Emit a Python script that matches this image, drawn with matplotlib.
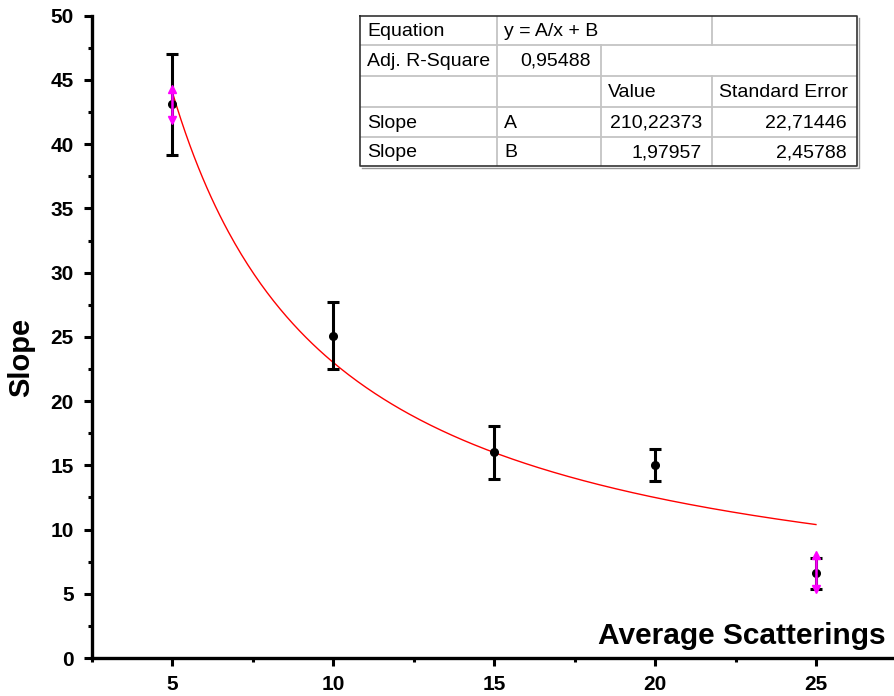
import numpy as np
import matplotlib.pyplot as plt
from matplotlib.ticker import MultipleLocator
from matplotlib.patches import Rectangle

plt.rcParams['font.family'] = ['Liberation Sans', 'DejaVu Sans']

avg_scatterings = [5, 10, 15, 20, 25]
slope = [43.1, 25.1, 16.0, 15.0, 6.6]
slope_err = [3.95, 2.6, 2.05, 1.25, 1.2]

# magenta markers at the two end points
mag_x = [5, 25]
mag_top = [44.3, 8.0]
mag_bottom = [41.9, 5.4]

# fit result y = A/x + B
FIT_A = 210.22373
FIT_B = 1.97957
FIT_A_ERR = 22.71446
FIT_B_ERR = 2.45788
ADJ_R2 = 0.95488


def comma(v):
    return f"{v:.5f}".replace(".", ",")


# table content: (row, col, text, align)
table_cells = [
    (0, 0, "Equation", "left"),
    (0, 1, "y = A/x + B", "left"),
    (1, 0, "Adj. R-Square", "left"),
    (1, 1, comma(ADJ_R2), "right"),
    (2, 2, "Value", "left"),
    (2, 3, "Standard Error", "left"),
    (3, 0, "Slope", "left"),
    (3, 1, "A", "left"),
    (3, 2, comma(FIT_A), "right"),
    (3, 3, comma(FIT_A_ERR), "right"),
    (4, 0, "Slope", "left"),
    (4, 1, "B", "left"),
    (4, 2, comma(FIT_B), "right"),
    (4, 3, comma(FIT_B_ERR), "right"),
]

fig = plt.figure(figsize=(8.95, 6.96), dpi=100)
ax = fig.add_axes([92 / 895, 1 - 658 / 696, 806 / 895, (658 - 15.7) / 696])

# fit curve
xf = np.linspace(avg_scatterings[0], avg_scatterings[-1], 300)
ax.plot(xf, FIT_A / xf + FIT_B, color="red", lw=1.0, zorder=2)

# data with error bars
ax.errorbar(avg_scatterings, slope, yerr=slope_err, fmt="o", color="black",
            ms=5.5, elinewidth=2.2, capsize=4.3, capthick=2.2, zorder=3)

# magenta end markers
ax.vlines(mag_x, mag_bottom, mag_top, color="#ff00ff", lw=1.8, zorder=4)
ax.plot(mag_x, mag_top, "^", color="#ff00ff", ms=6, zorder=4)
ax.plot(mag_x, mag_bottom, "v", color="#ff00ff", ms=6, zorder=4)

ax.set_xlim(2.5, 27.55)
ax.set_ylim(0, 50)
ax.xaxis.set_major_locator(MultipleLocator(5))
ax.xaxis.set_minor_locator(MultipleLocator(2.5))
ax.yaxis.set_major_locator(MultipleLocator(5))
ax.yaxis.set_minor_locator(MultipleLocator(2.5))

for s in ["top", "right"]:
    ax.spines[s].set_visible(False)
for s in ["left", "bottom"]:
    ax.spines[s].set_linewidth(2.4)
ax.tick_params(which="major", direction="out", length=6, width=2.2, labelsize=15)
ax.tick_params(axis="y", which="major", pad=7)
ax.tick_params(axis="x", which="major", pad=6)
ax.tick_params(which="minor", direction="out", length=3, width=2.2)
for lab in ax.get_xticklabels() + ax.get_yticklabels():
    lab.set_fontweight("bold")

fig.text(21 / 895, 1 - 357 / 696, "Slope", rotation=90, ha="center", va="center",
         fontsize=21, fontweight="bold")
fig.text(886 / 895, 1 - 644 / 696, "Average Scatterings", ha="right", va="baseline",
         fontsize=21.5, fontweight="bold")

# results table drawn in pixel units
col_edges = [0, 137, 241, 352, 497]
row_edges = [0, 29, 60, 91, 121, 150]
tax = fig.add_axes([360 / 895, 1 - 166 / 696, 497 / 895, 150 / 696])
tax.set_xlim(0, 497)
tax.set_ylim(150, 0)
tax.axis("off")
tax.add_patch(Rectangle((0, 0), 497, 150, facecolor="white", edgecolor="none"))

grid_c = "#c4c4c4"
for r in row_edges[1:-1]:
    tax.plot([0, 497], [r, r], color=grid_c, lw=1.3)
tax.plot([col_edges[1]] * 2, [0, 150], color=grid_c, lw=1.3)
tax.plot([col_edges[2]] * 2, [row_edges[1], 150], color=grid_c, lw=1.3)
tax.plot([col_edges[3]] * 2, [0, row_edges[1]], color=grid_c, lw=1.3)
tax.plot([col_edges[3]] * 2, [row_edges[2], 150], color=grid_c, lw=1.3)

# outer border with a small shadow
tax.plot([0, 497, 497, 0, 0], [0, 0, 150, 150, 0], color="#333333", lw=1.2, clip_on=False)
tax.plot([2, 498.5, 498.5], [151.5, 151.5, 2], color="#9a9a9a", lw=1.0, clip_on=False)

for r, c, txt, align in table_cells:
    yc = (row_edges[r] + row_edges[r + 1]) / 2 + 1
    if align == "left":
        tax.text(col_edges[c] + 7, yc, txt, ha="left", va="center", fontsize=14)
    else:
        tax.text(col_edges[c + 1] - 10, yc, txt, ha="right", va="center", fontsize=14)

fig.savefig("out.png", dpi=100)
